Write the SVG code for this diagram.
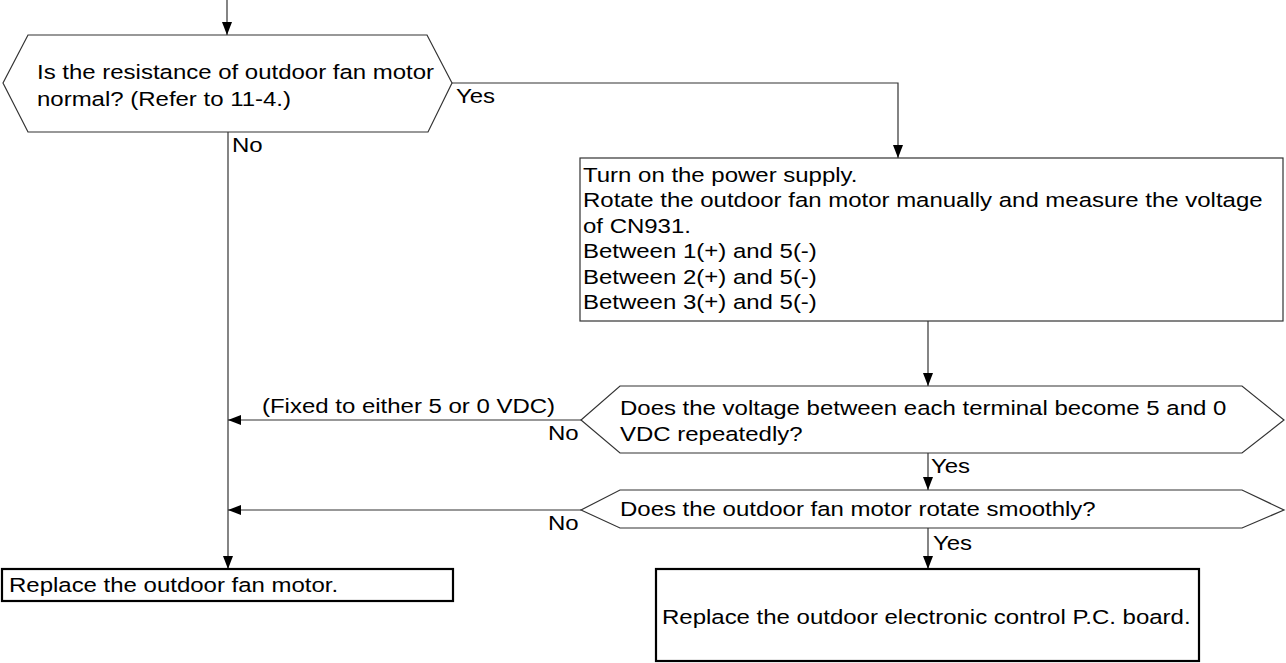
<svg xmlns="http://www.w3.org/2000/svg" width="1286" height="663" viewBox="0 0 1286 663">
<style>
text{font-family:"Liberation Sans",Arial,sans-serif;font-size:20.5px;fill:#000}
.thin{fill:#fff;stroke:#333;stroke-width:1.2}
.thick{fill:#fff;stroke:#000;stroke-width:2.2}
.conn{fill:none;stroke:#333;stroke-width:1.2}
</style>
<defs>
<marker id="ah" viewBox="0 0 13 10" refX="13" refY="5" markerWidth="13" markerHeight="10" markerUnits="userSpaceOnUse" orient="auto">
<path d="M0,0 L13,5 L0,10 Z" fill="#000"/>
</marker>
</defs>
<rect width="1286" height="663" fill="#fff"/>
<g id="connectors">
<path class="conn" d="M227,0 V35" marker-end="url(#ah)"/>
<path class="conn" d="M452,83 H898 V158" marker-end="url(#ah)"/>
<path class="conn" d="M228,132 V569" marker-end="url(#ah)"/>
<path class="conn" d="M928,321 V386" marker-end="url(#ah)"/>
<path class="conn" d="M581,420 H228" marker-end="url(#ah)"/>
<path class="conn" d="M928,453 V490" marker-end="url(#ah)"/>
<path class="conn" d="M581,510 H228" marker-end="url(#ah)"/>
<path class="conn" d="M928,528 V569" marker-end="url(#ah)"/>
</g>
<g id="labels">
<text transform="translate(456,103) scale(1.17,1)">Yes</text>
<text transform="translate(232,152) scale(1.17,1)">No</text>
<text transform="translate(262,413) scale(1.17,1)">(Fixed to either 5 or 0 VDC)</text>
<text transform="translate(548,440) scale(1.17,1)">No</text>
<text transform="translate(931,473) scale(1.17,1)">Yes</text>
<text transform="translate(548,530) scale(1.17,1)">No</text>
<text transform="translate(933,550) scale(1.17,1)">Yes</text>
</g>
<g id="q1">
<polygon class="thin" points="28,35 427,35 452,83 428,132 28,132 3,83"/>
<text transform="translate(37,78.5) scale(1.17,1)"><tspan x="0" y="0">Is the resistance of outdoor fan motor</tspan><tspan x="0" y="28">normal? (Refer to 11-4.)</tspan></text>
</g>
<g id="step1">
<rect class="thin" x="580" y="158" width="703" height="163"/>
<text transform="translate(583,182) scale(1.17,1)"><tspan x="0" y="0">Turn on the power supply.</tspan><tspan x="0" y="25.5">Rotate the outdoor fan motor manually and measure the voltage</tspan><tspan x="0" y="51">of CN931.</tspan><tspan x="0" y="76.5">Between 1(+) and 5(-)</tspan><tspan x="0" y="102">Between 2(+) and 5(-)</tspan><tspan x="0" y="127.5">Between 3(+) and 5(-)</tspan></text>
</g>
<g id="q2">
<polygon class="thin" points="620,386 1242,386 1284,420 1242,453 620,453 581,420"/>
<text transform="translate(620,415) scale(1.17,1)"><tspan x="0" y="0">Does the voltage between each terminal become 5 and 0</tspan><tspan x="0" y="26">VDC repeatedly?</tspan></text>
</g>
<g id="q3">
<polygon class="thin" points="620,490 1242,490 1284,510 1242,528 620,528 581,510"/>
<text transform="translate(620,516) scale(1.17,1)">Does the outdoor fan motor rotate smoothly?</text>
</g>
<g id="replace-motor">
<rect class="thick" x="2" y="569" width="451" height="32"/>
<text transform="translate(9,592) scale(1.17,1)">Replace the outdoor fan motor.</text>
</g>
<g id="replace-board">
<rect class="thick" x="656" y="569" width="543" height="92"/>
<text transform="translate(662,624) scale(1.17,1)">Replace the outdoor electronic control P.C. board.</text>
</g>
</svg>
